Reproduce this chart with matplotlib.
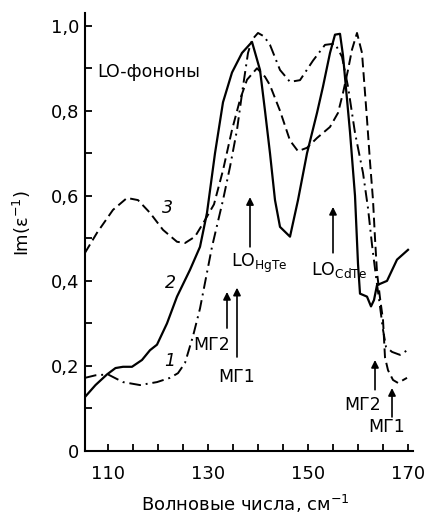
import numpy as np
import matplotlib
matplotlib.use("Agg")
import matplotlib.pyplot as plt
from matplotlib.ticker import MultipleLocator, FixedLocator

plt.rcParams['font.family'] = ['DejaVu Sans']
plt.rcParams['mathtext.fontset'] = 'dejavusans'

# curve 1 (dash-dot)
x1 = [105.4, 107.5, 110, 113, 116.4, 119.8, 122.4, 124, 125.4, 127, 128.4, 130.8,
      133, 134.4, 135.8, 137, 138, 138.8, 140, 141.2, 142.4, 144.4, 146.4, 148.4,
      151, 153.4, 155.4, 156.8, 158, 159.4, 161, 162, 162.8, 163.6, 164.4, 165,
      165.6, 166.8, 168.4, 170]
y1 = [0.172, 0.178, 0.18, 0.162, 0.155, 0.162, 0.172, 0.183, 0.207, 0.27, 0.335, 0.48,
      0.59, 0.668, 0.755, 0.857, 0.936, 0.967, 0.983, 0.975, 0.955, 0.896, 0.868, 0.872,
      0.918, 0.955, 0.958, 0.927, 0.857, 0.748, 0.654, 0.571, 0.485, 0.41, 0.34, 0.285,
      0.245, 0.233, 0.226, 0.238]

# curve 2 (solid)
x2 = [105.4, 107.5, 109.8, 111.5, 113, 114.8, 116.8, 118.4, 119.8, 121.8, 123.8, 126.4,
      128.4, 129.8, 131.4, 133, 134.8, 136.8, 138.8, 140.4, 141.4, 142.4, 143.4, 144.4,
      146.4, 148, 149.8, 151.8, 153, 154.4, 155.4, 156.4, 157, 158.4, 159.4, 160, 160.4,
      161.8, 162.6, 163.2, 163.8, 165.8, 167.8, 170]
y2 = [0.127, 0.155, 0.18, 0.195, 0.198, 0.198, 0.214, 0.237, 0.25, 0.30, 0.363, 0.426,
      0.48, 0.56, 0.70, 0.82, 0.89, 0.936, 0.962, 0.896, 0.80, 0.70, 0.59, 0.527,
      0.504, 0.59, 0.70, 0.795, 0.857, 0.936, 0.979, 0.981, 0.93, 0.75, 0.60, 0.44, 0.37,
      0.363, 0.34, 0.355, 0.39, 0.40, 0.45, 0.473]

# curve 3 (dashed)
x3 = [105.4, 107.8, 111, 113.8, 116, 118.4, 121, 123.8, 125.4, 127.4, 129.4, 131.2,
      133, 134.8, 136.4, 137.8, 139.8, 141.4, 142.4, 143.4, 144.4, 146.4, 148, 149.8,
      151.8, 154.4, 156, 157, 158, 158.8, 159.8, 160.8, 161.8, 162.4, 163, 163.4, 163.8,
      164.4, 165, 165.4, 166, 167, 168, 169.8]
y3 = [0.466, 0.513, 0.567, 0.595, 0.59, 0.56, 0.52, 0.492, 0.489, 0.504, 0.543, 0.58,
      0.66, 0.755, 0.826, 0.873, 0.90, 0.88, 0.86, 0.83, 0.80, 0.73, 0.705, 0.713,
      0.736, 0.762, 0.795, 0.842, 0.896, 0.944, 0.983, 0.936, 0.78, 0.68, 0.59, 0.50, 0.42,
      0.36, 0.308, 0.22, 0.19, 0.167, 0.16, 0.172]

# arrows: x, y_start, y_end, label, label_x, label_y
arrows = [
    (138.4, 0.48, 0.597, "LO$_{\\mathrm{HgTe}}$", 140.2, 0.442),
    (155.0, 0.466, 0.574, "LO$_{\\mathrm{CdTe}}$", 156.2, 0.426),
    (133.8, 0.289, 0.374, "МГ2", 130.8, 0.249),
    (135.8, 0.221, 0.384, "МГ1", 135.8, 0.174),
    (163.4, 0.144, 0.214, "МГ2", 161.0, 0.108),
    (166.8, 0.080, 0.148, "МГ1", 165.8, 0.056),
]

fig = plt.figure(figsize=(4.26, 5.15), dpi=100)
ax = fig.add_axes([0.1995, 0.1243, 0.77, 0.8505])

ax.plot(x1, y1, color='black', lw=1.4, dashes=(6, 2.5, 1, 2.5))
ax.plot(x2, y2, color='black', lw=1.6)
ax.plot(x3, y3, color='black', lw=1.4, dashes=(5, 2.5))

for x, ys, ye, lab, lx, ly in arrows:
    ax.annotate("", xy=(x, ye), xytext=(x, ys),
                arrowprops=dict(arrowstyle='-|>', color='black', lw=1.2,
                                mutation_scale=11, shrinkA=0, shrinkB=0))
    ax.text(lx, ly, lab, ha='center', va='center', fontsize=12.5)

ax.text(122.4, 0.212, "1", fontsize=12.5, style='italic', ha='center', va='center')
ax.text(122.4, 0.395, "2", fontsize=12.5, style='italic', ha='center', va='center')
ax.text(121.8, 0.572, "3", fontsize=12.5, style='italic', ha='center', va='center')
ax.text(107.8, 0.892, "LO-фононы", fontsize=12.5, ha='left', va='center')

ax.set_xlim(105.4, 171.0)
ax.set_ylim(0, 1.03)
ax.xaxis.set_major_locator(FixedLocator([110, 130, 150, 170]))
ax.xaxis.set_minor_locator(MultipleLocator(5))
ax.yaxis.set_major_locator(FixedLocator([0, 0.2, 0.4, 0.6, 0.8, 1.0]))
ax.yaxis.set_minor_locator(MultipleLocator(0.1))
ax.set_yticklabels(["0", "0,2", "0,4", "0,6", "0,8", "1,0"])
ax.tick_params(which='both', direction='in', length=5, width=1.3, labelsize=13)
ax.tick_params(axis='y', pad=4)
ax.tick_params(axis='x', pad=10)

for s in ['top', 'right']:
    ax.spines[s].set_visible(False)
for s in ['left', 'bottom']:
    ax.spines[s].set_linewidth(1.5)

ax.set_xlabel("Волновые числа, см$^{-1}$", fontsize=13)
ax.xaxis.set_label_coords(0.49, -0.095)
ax.set_ylabel("Im(ε$^{-1}$)", fontsize=13)
ax.yaxis.set_label_coords(-0.16, 0.52)

fig.savefig("out.png", dpi=100)
